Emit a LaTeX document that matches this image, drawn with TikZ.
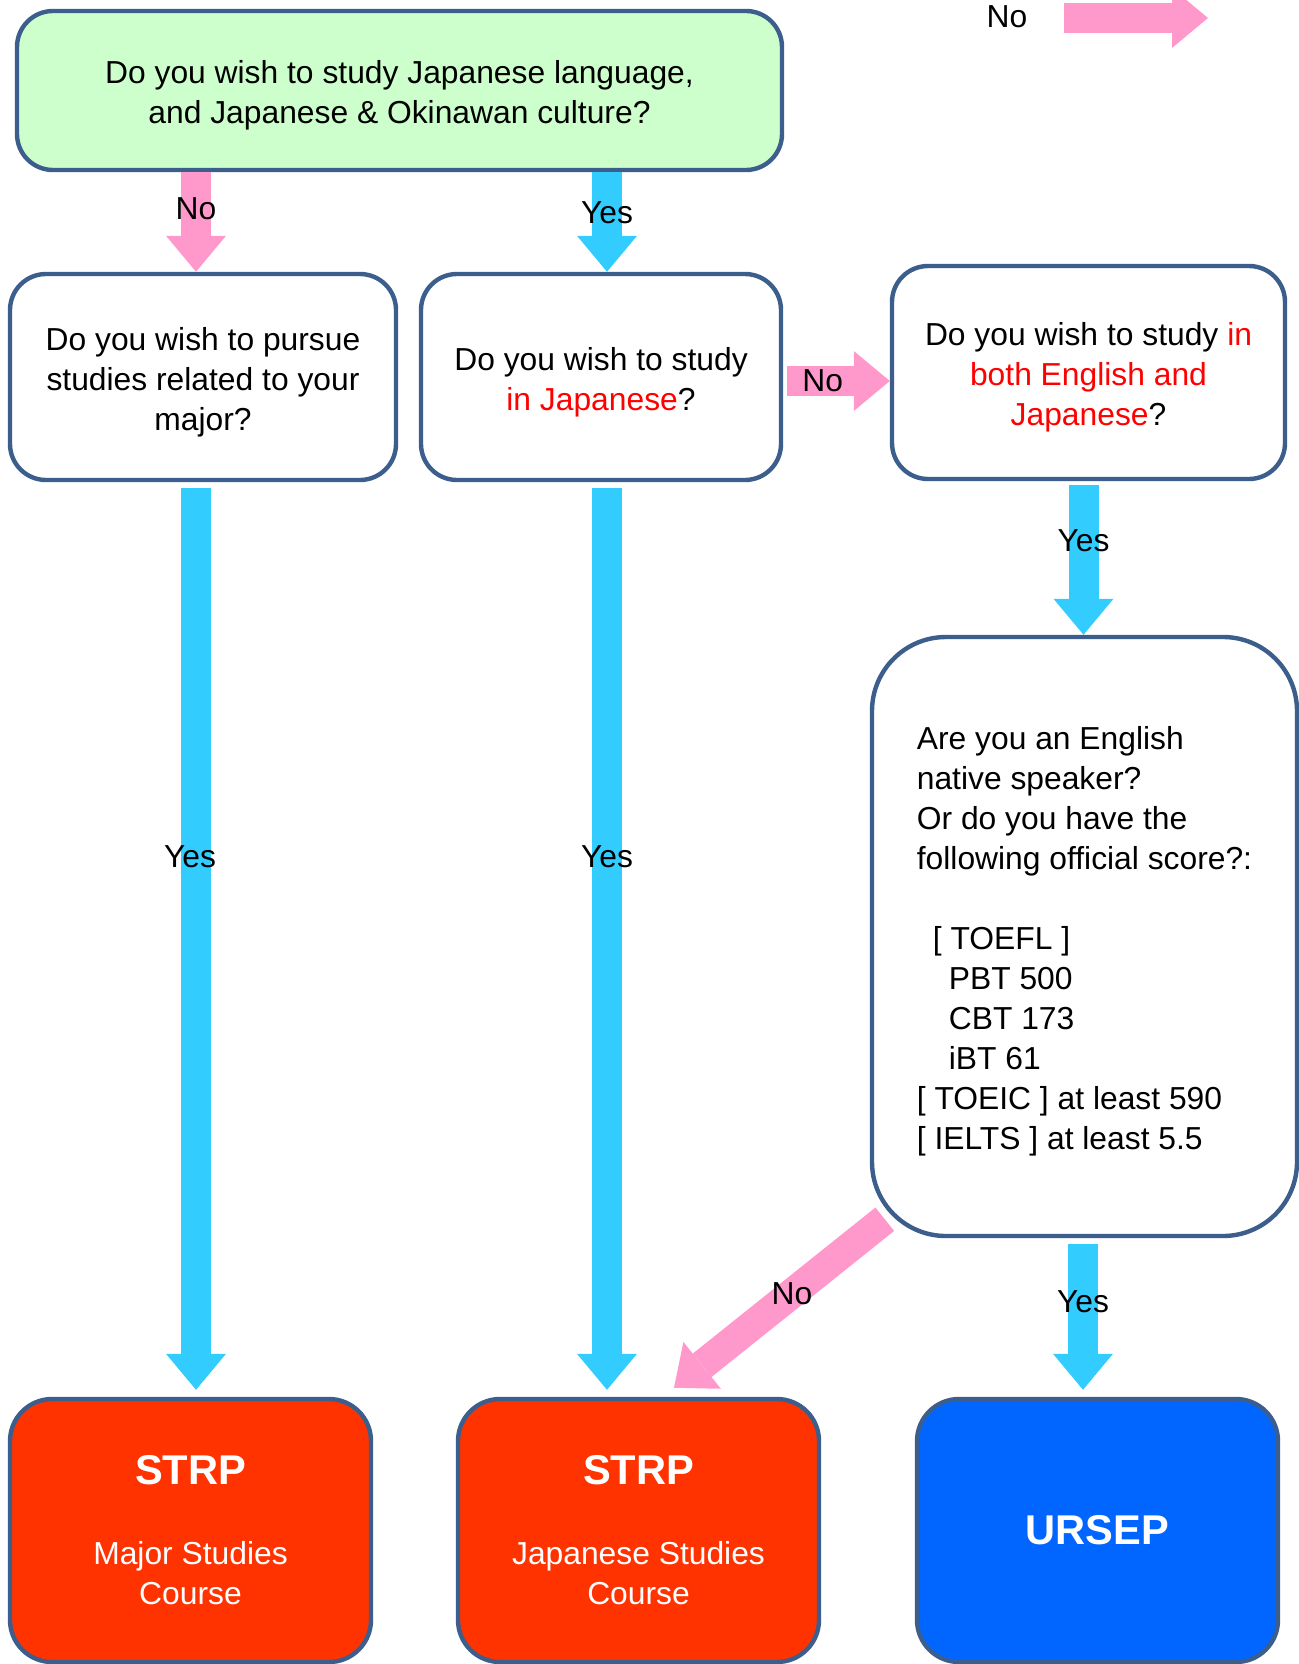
\documentclass[tikz,border=0pt]{standalone}
\usepackage{fontspec}
\setmainfont{Liberation Sans}
\usetikzlibrary{arrows.meta,calc}

\definecolor{boxedge}{RGB}{59,94,140}
\definecolor{qgreen}{RGB}{204,255,204}
\definecolor{nopink}{RGB}{255,153,204}
\definecolor{yescyan}{RGB}{51,204,255}
\definecolor{strpred}{RGB}{255,51,0}
\definecolor{ursepblue}{RGB}{0,102,255}
\definecolor{hired}{RGB}{255,0,0}
\newcommand{\qstrut}{\rule{0pt}{16.6pt}}

\begin{document}
\begin{tikzpicture}[x=0.5pt, y=-0.5pt,
    font=\fontsize{15.9}{20}\selectfont,
    box/.style={draw=boxedge, line width=2.2pt, rounded corners=18pt, align=center, inner sep=0pt},
    question/.style={box, fill=white},
    course/.style={box, text=white, minimum width=180.5pt, minimum height=131.5pt, rounded corners=21pt},
    flow/.style={line width=15pt, -{Triangle[width=30pt, length=18pt, line width=0pt]}},
    noarrow/.style={flow, draw=nopink},
    yesarrow/.style={flow, draw=yescyan},
    lbl/.style={inner sep=0pt}]

  \useasboundingbox (0,0) rectangle (1298,1664);

  % --- INTREBARI ---
  \node[question, fill=qgreen, minimum width=382.5pt, minimum height=79.5pt] (q0) at (399.5,90.5)
    {\qstrut Do you wish to study Japanese language,\\and Japanese \& Okinawan culture?};
  \node[question, minimum width=193pt, minimum height=103pt] (q1) at (203,377)
    {\qstrut Do you wish to pursue\\studies related to your\\major?};
  \node[question, minimum width=180pt, minimum height=103pt] (q2) at (601,377)
    {\qstrut Do you wish to study\\\textcolor{hired}{in Japanese}?};
  \node[question, minimum width=196.5pt, minimum height=106.5pt] (q3) at (1088.5,372.5)
    {\qstrut Do you wish to study \textcolor{hired}{in}\\\textcolor{hired}{both English and}\\\textcolor{hired}{Japanese}?};
  \node[question, align=left, minimum width=212.5pt, minimum height=299.5pt, rounded corners=37pt] (q4) at (1084.5,936.5)
    {\qstrut Are you an English\\native speaker?\\Or do you have the\\following official score?:\\[20pt]
     \hspace*{8pt}[ TOEFL ]\\\hspace*{16pt}PBT 500\\\hspace*{16pt}CBT 173\\\hspace*{16pt}iBT 61\\
     {[} TOEIC ] at least 590\\{[} IELTS ] at least 5.5};

  % --- PROGRAME ---
  \node[course, fill=strpred] (r1) at (190.5,1530.5)
    {{\bfseries\fontsize{20.8}{25}\selectfont STRP}\\[20pt]Major Studies\\Course};
  \node[course, fill=strpred] (r2) at (638.5,1530.5)
    {{\bfseries\fontsize{20.8}{25}\selectfont STRP}\\[20pt]Japanese Studies\\Course};
  \node[course, fill=ursepblue] (r3) at (1097.5,1530.5)
    {\bfseries\fontsize{20.8}{25}\selectfont URSEP};

  % --- SAGETI ---
  \draw[noarrow] ($(q1.north |- q0.south)+(-7,0)$) -- ($(q1.north)+(-7,0)$) node[lbl, pos=0.37] {No};
  \draw[yesarrow] ($(q2.north |- q0.south)+(6,0)$) -- ($(q2.north)+(6,0)$) node[lbl, pos=0.41] {Yes};
  \draw[noarrow, shorten <=2pt] ($(q2.east)+(0,4)$) -- ($(q2.east -| q3.west)+(0,4)$) node[lbl, pos=0.37] {No};
  \draw[yesarrow, shorten <=2pt] ($(q3.south)+(-5,0)$) -- ($(q3.south |- q4.north)+(-5,0)$) node[lbl, pos=0.39] {Yes};
  \draw[yesarrow, shorten <=3pt, shorten >=3.5pt] ($(q1.south)+(-7,0)$) -- ($(q1.south |- r1.north)+(-7,0)$)
    node[lbl, pos=0.41, xshift=-3pt] {Yes};
  \draw[yesarrow, shorten <=3pt, shorten >=3.5pt] ($(q2.south)+(6,0)$) -- ($(q2.south |- r2.north)+(6,0)$)
    node[lbl, pos=0.41] {Yes};
  \draw[yesarrow, shorten <=3pt, shorten >=3.5pt] ($(q4.south)+(-1.5,0)$) -- ($(q4.south |- r3.north)+(-1.5,0)$)
    node[lbl, pos=0.40] {Yes};
  \draw[noarrow] ($(q4.south west)+(15,-19)$) -- ($(r2.north)+(35.5,-9)$) node[lbl, pos=0.44] {No};

  % --- LEGENDA ---
  \node[lbl] (legno) at (1007,17) {No};
  \coordinate (legtail) at (1064,18);
  \coordinate (legtip) at (1208,18);
  \draw[noarrow] (legtail) -- (legtip);

\end{tikzpicture}
\end{document}
